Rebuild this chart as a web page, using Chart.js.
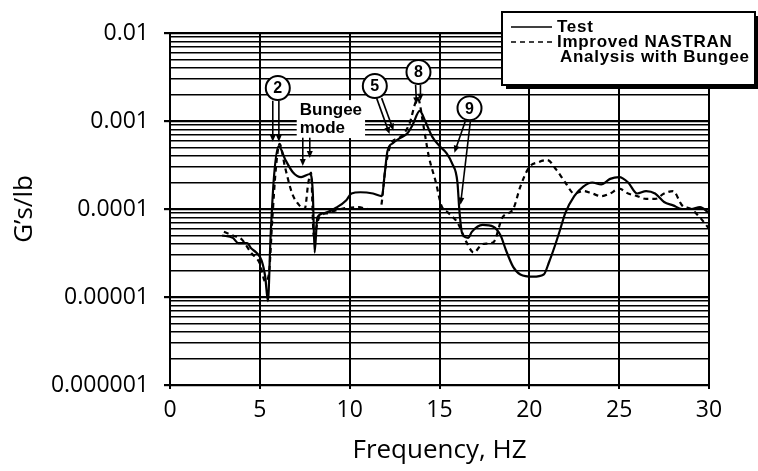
<!DOCTYPE html>
<html>
<head>
<meta charset="utf-8">
<script src="https://cdn.jsdelivr.net/npm/chart.js@4.4.1/dist/chart.umd.min.js"></script>
<style>
  html, body { margin: 0; padding: 0; background: #fff; }
  #wrap { width: 758px; height: 471px; }
</style>
</head>
<body>
<div id="wrap"><canvas id="chart" width="758" height="471"></canvas></div>
<script>
// Measured response, G's/lb vs frequency (Hz)
const testFreq = [2.9, 3.5, 3.8, 4.3, 4.5, 4.8, 5.1, 5.3, 5.45, 5.6, 5.8, 6.05, 6.4, 6.85, 7.3, 7.8, 7.95, 8.05,
  8.2, 8.6, 9.3, 9.8, 10.1, 10.6, 11.3, 11.8, 11.95, 12.1, 12.4, 12.8, 13.2, 13.5, 13.9, 14.2, 14.6, 15.0,
  15.4, 15.7, 16.0, 16.1, 16.25, 16.6, 16.8, 17.4, 18.0, 18.4, 18.7, 19.1, 19.5, 20.2, 20.8, 21.1, 21.4,
  21.7, 22.0, 22.5, 23.0, 23.5, 24.0, 24.5, 25.0, 25.5, 26.0, 26.5, 27.0, 27.5, 28.0, 28.5, 29.0, 29.5, 30.0];
const testGain = [5.0e-5, 4.7e-5, 4.1e-5, 4.1e-5, 3.6e-5, 3.2e-5, 2.6e-5, 1.7e-5, 9e-6, 5e-5, 2.5e-4, 5.2e-4,
  3.7e-4, 2.6e-4, 2.3e-4, 2.5e-4, 1.5e-4, 3.2e-5, 8e-5, 9e-5, 1.05e-4, 1.25e-4, 1.5e-4, 1.55e-4, 1.5e-4,
  1.4e-4, 2.5e-4, 4.5e-4, 5.6e-4, 6.4e-4, 7.2e-4, 9e-4, 1.3e-3, 1.0e-3, 6.6e-4, 5.2e-4, 4.3e-4, 3.3e-4,
  2e-4, 1e-4, 5.4e-5, 4.7e-5, 5.5e-5, 6.6e-5, 6.3e-5, 5e-5, 3.4e-5, 2.2e-5, 1.8e-5, 1.7e-5, 1.8e-5,
  2.5e-5, 3.7e-5, 5.7e-5, 9e-5, 1.4e-4, 1.8e-4, 2.0e-4, 1.9e-4, 2.2e-4, 2.3e-4, 2.0e-4, 1.5e-4, 1.6e-4,
  1.5e-4, 1.2e-4, 1.1e-4, 1.0e-4, 1.0e-4, 1.05e-4, 9e-5];

// Improved NASTRAN analysis with bungee
const nastranFreq = [3.0, 3.5, 4.0, 4.5, 5.0, 5.3, 5.5, 5.7, 5.9, 6.1, 6.4, 6.8, 7.2, 7.5, 7.7, 7.85, 8.0, 8.3,
  8.8, 9.5, 10.5, 11.0, 11.7, 12.0, 12.3, 12.8, 13.3, 13.8, 14.1, 14.4, 14.8, 15.1, 15.5, 16.0, 16.5, 16.9,
  17.4, 18.0, 18.5, 19.1, 19.5, 20.0, 20.5, 21.0, 21.5, 22.0, 22.5, 23.0, 23.5, 24.0, 24.5, 25.0, 25.5,
  26.0, 26.5, 27.0, 27.5, 28.0, 28.5, 29.0, 29.5, 30.0];
const nastranGain = [5.5e-5, 5e-5, 4.5e-5, 3.2e-5, 2.4e-5, 1.5e-5, 1.8e-5, 8e-5, 3e-4, 5.5e-4, 3e-4, 1.5e-4,
  1.1e-4, 1.0e-4, 2e-4, 2.6e-4, 5e-5, 8e-5, 9e-5, 1e-4, 1.05e-4, 1e-4, 1e-4, 3e-4, 5.5e-4, 6.5e-4, 9e-4,
  1.8e-3, 9e-4, 4e-4, 2e-4, 1.1e-4, 9e-5, 7e-5, 4.2e-5, 3.2e-5, 4e-5, 4.2e-5, 8e-5, 1.0e-4, 1.8e-4, 3e-4,
  3.4e-4, 3.6e-4, 2.8e-4, 2e-4, 1.5e-4, 1.6e-4, 1.5e-4, 1.4e-4, 1.5e-4, 1.7e-4, 1.5e-4, 1.4e-4, 1.3e-4,
  1.3e-4, 1.5e-4, 1.6e-4, 1.1e-4, 1.0e-4, 8e-5, 6e-5];

const seriesNames = ['Test', 'Improved NASTRAN Analysis with Bungee'];
const legendLines = [['Test'], ['Improved NASTRAN', 'Analysis with Bungee']];

// decade labels on the log axis, lowest first
const decadeExps = [-6, -5, -4, -3, -2];
const yTickLabels = ['0.000001', '0.00001', '0.0001', '0.001', '0.01'];

// circled mode numbers, arrows in [freq, G's/lb]
const modeCallouts = [
  { label: '2', at: [6.0, 2.37e-3], arrows: [[[5.72, 1.7e-3], [5.72, 5.8e-4]], [[6.06, 1.7e-3], [6.06, 5.8e-4]]] },
  { label: '5', at: [11.4, 2.5e-3], arrows: [[[11.5, 1.82e-3], [12.22, 7.1e-4]], [[11.78, 1.82e-3], [12.44, 7.8e-4]]] },
  { label: '8', at: [13.83, 3.6e-3], arrows: [[[13.67, 2.57e-3], [13.72, 1.55e-3]], [[13.94, 2.57e-3], [13.94, 1.7e-3]]] },
  { label: '9', at: [16.67, 1.4e-3], arrows: [[[16.44, 1.0e-3], [15.83, 4.37e-4]], [[16.72, 1.0e-3], [16.17, 1.12e-4]]] }
];
const bungeeNote = { lines: ['Bungee', 'mode'], at: [7.22, 1.33e-3], lineGap: 18,
  arrows: [[[7.39, 6.46e-4], [7.39, 3.09e-4]], [[7.78, 6.46e-4], [7.78, 3.8e-4]]] };

// grid lines at 1..9 x 10^n
const gridValues = [];
decadeExps.forEach(e => {
  for (let m = 1; m <= 9; m++) {
    if (e === decadeExps[decadeExps.length - 1] && m > 1) break;
    gridValues.push(m * Math.pow(10, e));
  }
});

const isDecade = v => Math.abs(Math.log10(v) - Math.round(Math.log10(v))) < 1e-6;

function drawArrow(ctx, x1, y1, x2, y2) {
  const ang = Math.atan2(y2 - y1, x2 - x1);
  const len = 7, half = 3;
  ctx.beginPath();
  ctx.moveTo(x1, y1);
  ctx.lineTo(x2 - Math.cos(ang) * len * 0.6, y2 - Math.sin(ang) * len * 0.6);
  ctx.stroke();
  ctx.beginPath();
  ctx.moveTo(x2, y2);
  ctx.lineTo(x2 - Math.cos(ang) * len - Math.sin(ang) * half, y2 - Math.sin(ang) * len + Math.cos(ang) * half);
  ctx.lineTo(x2 - Math.cos(ang) * len + Math.sin(ang) * half, y2 - Math.sin(ang) * len - Math.cos(ang) * half);
  ctx.closePath();
  ctx.fill();
}

const calloutPlugin = {
  id: 'callouts',
  afterDatasetsDraw(chart) {
    const { ctx, scales: { x, y } } = chart;
    const px = f => x.getPixelForValue(f);
    const py = v => y.getPixelForValue(v);
    ctx.save();
    ctx.strokeStyle = '#000';
    ctx.fillStyle = '#000';
    ctx.lineWidth = 1.6;

    // Bungee mode note
    ctx.font = 'bold 17px "Liberation Sans", Arial, sans-serif';
    ctx.textAlign = 'left';
    ctx.textBaseline = 'middle';
    const bx = px(bungeeNote.at[0]), by = py(bungeeNote.at[1]);
    const bw = Math.max(...bungeeNote.lines.map(t => ctx.measureText(t).width));
    ctx.fillStyle = '#fff';
    ctx.fillRect(bx - 3, by - 10, bw + 6, bungeeNote.lineGap * bungeeNote.lines.length + 2);
    ctx.fillStyle = '#000';
    bungeeNote.lines.forEach((t, i) => ctx.fillText(t, bx, by + i * bungeeNote.lineGap));
    bungeeNote.arrows.forEach(([a, b]) => drawArrow(ctx, px(a[0]), py(a[1]), px(b[0]), py(b[1])));

    modeCallouts.forEach(c => {
      c.arrows.forEach(([a, b]) => drawArrow(ctx, px(a[0]), py(a[1]), px(b[0]), py(b[1])));
      const cx = px(c.at[0]), cy = py(c.at[1]);
      ctx.beginPath();
      ctx.arc(cx, cy, 12, 0, Math.PI * 2);
      ctx.fillStyle = '#fff';
      ctx.fill();
      ctx.lineWidth = 2;
      ctx.stroke();
      ctx.lineWidth = 1.6;
      ctx.fillStyle = '#000';
      ctx.font = 'bold 16px "Liberation Sans", Arial, sans-serif';
      ctx.textAlign = 'center';
      ctx.fillText(c.label, cx, cy + 1);
    });
    ctx.restore();
  }
};

// boxed legend sitting over the top right corner of the plot
const legendBoxPlugin = {
  id: 'legendBox',
  afterDraw(chart) {
    const { ctx, chartArea } = chart;
    const left = chartArea.right - 207, top = chartArea.top - 21;
    const right = chart.width - 3, bottom = chartArea.top + 52;
    ctx.save();
    ctx.fillStyle = '#fff';
    ctx.fillRect(left, top, right - left, bottom - top);
    ctx.strokeStyle = '#000';
    ctx.lineWidth = 2;
    ctx.strokeRect(left, top, right - left, bottom - top);
    ctx.fillStyle = '#000';
    ctx.fillRect(left + 4, bottom, right - left, 4);
    ctx.fillRect(right, top + 4, 3, bottom - top);

    ctx.font = 'bold 17px "Liberation Sans", Arial, sans-serif';
    ctx.letterSpacing = '0.7px';
    ctx.textAlign = 'left';
    ctx.textBaseline = 'middle';
    ctx.lineWidth = 1.6;
    let rowY = top + 15;
    chart.data.datasets.forEach((ds, i) => {
      ctx.setLineDash(ds.borderDash || []);
      ctx.beginPath();
      ctx.moveTo(left + 9, rowY);
      ctx.lineTo(left + 50, rowY);
      ctx.stroke();
      ctx.setLineDash([]);
      legendLines[i].forEach((t, j) => {
        ctx.fillText(t, left + 55 + (j > 0 ? 3 : 0), rowY + j * 15);
      });
      rowY += 15 * legendLines[i].length;
    });
    ctx.restore();
  }
};

const toPoints = (xs, ys) => xs.map((f, i) => ({ x: f, y: ys[i] }));

new Chart(document.getElementById('chart'), {
  type: 'line',
  data: {
    datasets: [
      {
        label: seriesNames[0],
        data: toPoints(testFreq, testGain),
        borderColor: '#000',
        borderWidth: 2.2,
        pointRadius: 0,
        cubicInterpolationMode: 'monotone',
        fill: false
      },
      {
        label: seriesNames[1],
        data: toPoints(nastranFreq, nastranGain),
        borderColor: '#000',
        borderWidth: 2.2,
        borderDash: [5, 4],
        pointRadius: 0,
        cubicInterpolationMode: 'monotone',
        fill: false
      }
    ]
  },
  options: {
    responsive: false,
    animation: false,
    layout: { padding: { top: 33, right: 49, left: 0, bottom: 0 } },
    plugins: { legend: { display: false }, tooltip: { enabled: false } },
    scales: {
      x: {
        type: 'linear',
        min: 0,
        max: 30,
        ticks: {
          stepSize: 5,
          color: '#000',
          padding: 8,
          font: { family: 'Open Sans', size: 23 }
        },
        grid: { color: '#000', lineWidth: 2, tickLength: 4 },
        border: { display: false },
        title: {
          display: true,
          text: 'Frequency, HZ',
          color: '#000',
          font: { family: 'Open Sans', size: 26 },
          padding: { top: 0, bottom: 5 }
        },
        afterFit(scale) { scale.height = 86; }
      },
      y: {
        type: 'logarithmic',
        min: 1e-6,
        max: 1e-2,
        afterBuildTicks(scale) {
          scale.ticks = gridValues.map(v => ({ value: v }));
        },
        ticks: {
          autoSkip: false,
          color: '#000',
          padding: 15,
          font: { family: 'Open Sans', size: 23 },
          callback(value) {
            if (!isDecade(value)) return '';
            return yTickLabels[decadeExps.indexOf(Math.round(Math.log10(value)))];
          }
        },
        grid: {
          color: '#000',
          lineWidth: c => (c.tick && isDecade(c.tick.value)) ? 2.2 : 1.4,
          tickColor: c => (c.tick && isDecade(c.tick.value)) ? '#000' : 'rgba(0,0,0,0)',
          tickLength: 6
        },
        border: { display: true, color: '#000', width: 2 },
        title: {
          display: true,
          text: 'G’s/lb',
          color: '#000',
          font: { family: 'Open Sans', size: 26 },
          padding: { top: 9, bottom: 0 }
        },
        afterFit(scale) { scale.width = 170; }
      }
    }
  },
  plugins: [calloutPlugin, legendBoxPlugin]
});
</script>
</body>
</html>
